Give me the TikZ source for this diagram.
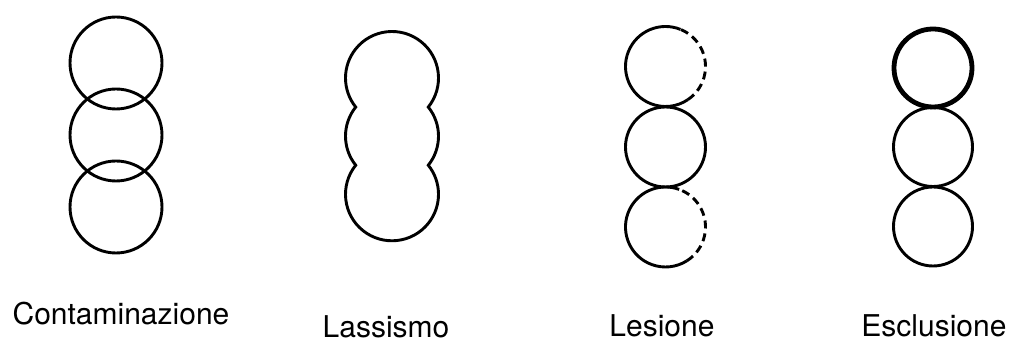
\documentclass[tikz,border=0pt]{standalone}
\usepackage{fontspec}
\setmainfont{TeX Gyre Heros}
\usetikzlibrary{calc}
\begin{document}
\begin{tikzpicture}[x=1pt,y=1pt,
  ring/.style={line width=2.9pt,black},
  thickring/.style={line width=4.8pt,black},
  torn/.style={line width=2.9pt,black,dash pattern=on 8pt off 5pt},
  lbl/.style={anchor=base,inner sep=0pt,font=\fontsize{30}{36}\selectfont}]
\useasboundingbox (0,0) rectangle (1010,342);
% Contaminazione
\draw[ring] (116,279) circle (46);
\draw[ring] (116,207) circle (46);
\draw[ring] (116,135) circle (46);
\node[lbl] (t1) at (121,17) {Contaminazione};
% Lassismo
\draw[ring,line join=miter]
  ($(392,264)+(-38.7:46.5)$) arc[start angle=-38.7,end angle=218.7,radius=46.5]
  arc[start angle=141.3,end angle=218.7,radius=46.5]
  arc[start angle=141.3,end angle=398.7,radius=46.5]
  arc[start angle=-38.7,end angle=38.7,radius=46.5] -- cycle;
\node[lbl] (t2) at (386,4.5) {Lassismo};
% Lesione
\draw[ring] (665.5,275.5)+(68:40) arc[start angle=68,end angle=304,radius=40];
\draw[torn] (665.5,275.5)+(-56:40) arc[start angle=-56,end angle=68,radius=40];
\draw[ring] (665.5,195) circle (40);
\draw[ring] (665.5,115)+(70:40) arc[start angle=70,end angle=302,radius=40];
\draw[torn] (665.5,115)+(-58:40) arc[start angle=-58,end angle=70,radius=40];
\node[lbl] (t3) at (662,5.5) {Lesione};
% Esclusione
\draw[thickring] (933,274) circle (39);
\draw[ring] (933,195) circle (39.5);
\draw[ring] (933,115.5) circle (39.5);
\node[lbl] (t4) at (934,5.5) {Esclusione};
\end{tikzpicture}
\end{document}
